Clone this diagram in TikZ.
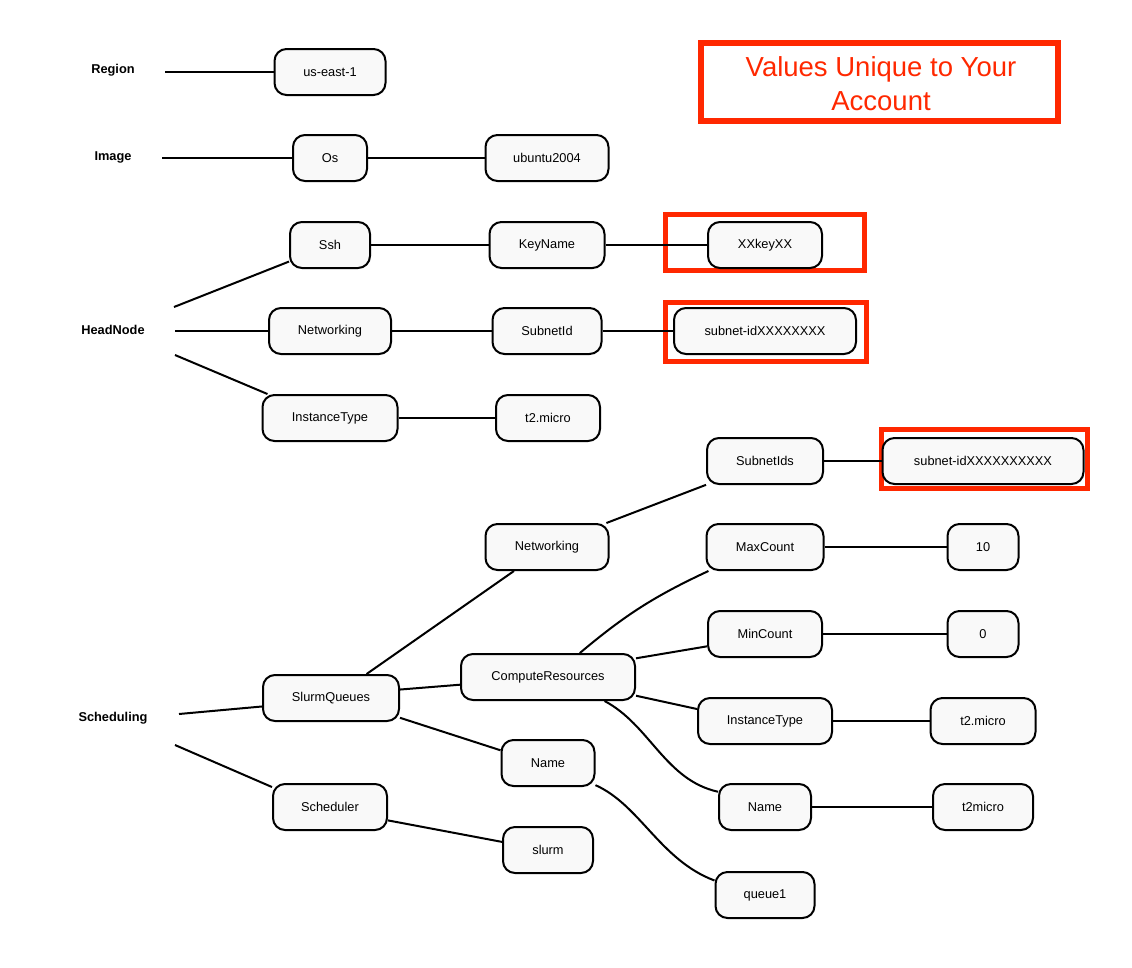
\documentclass[tikz,border=0pt]{standalone}
\usepackage{fontspec}
\setmainfont{Liberation Sans}
\definecolor{acctred}{RGB}{255,40,0}
\definecolor{boxgray}{RGB}{249,249,249}
\begin{document}
\begin{tikzpicture}[x=1pt,y=-1pt,
  box/.style={draw=black, line width=2pt, rounded corners=12pt, fill=boxgray,
    minimum height=46pt, inner sep=0pt, font=\fontsize{12.8}{15}\selectfont},
  lbl/.style={inner sep=0pt, font=\fontsize{12.8}{15}\selectfont\bfseries},
  link/.style={line width=2pt},
  mark box/.style={draw=acctred, line width=5pt}]
  \useasboundingbox (0,0) rectangle (1132,967);
  \node[lbl] (region) at (113,70) {Region};
  \node[lbl] (image) at (113,157) {Image};
  \node[lbl] (headnode) at (113,330) {HeadNode};
  \node[lbl] (scheduling) at (113,718) {Scheduling};
  \coordinate (rg) at (165,72);
  \coordinate (im) at (162,158);
  \coordinate (hn1) at (174,307);
  \coordinate (hn2) at (175,331);
  \coordinate (hn3) at (175,355);
  \coordinate (sc1) at (179,714);
  \coordinate (sc2) at (175,745);
  \draw[mark box, line width=6pt] (701,43) rectangle (1058,121);
  \node[text=acctred, align=center, inner sep=0pt, font=\fontsize{27.5}{34}\selectfont] (note) at (881,84) {Values Unique to Your\\Account};
  \draw[mark box] (665.5,214.5) rectangle (864.5,270.5);
  \draw[mark box] (665.5,302.5) rectangle (866.5,361.5);
  \draw[mark box] (881.5,429.5) rectangle (1087.5,488.5);
  \node[box, minimum width=111pt] (useast) at (330,72) {us-east-1};
  \node[box, minimum width=74pt] (os) at (330,158) {Os};
  \node[box, minimum width=123pt] (ubuntu) at (547,158) {ubuntu2004};
  \node[box, minimum width=80pt] (ssh) at (330,245) {Ssh};
  \node[box, minimum width=115pt] (keyname) at (547,245) {KeyName};
  \node[box, minimum width=114pt] (xxkey) at (765,245) {XXkeyXX};
  \node[box, minimum width=122pt] (hnet) at (330,331) {Networking};
  \node[box, minimum width=109pt] (subnetid) at (547,331) {SubnetId};
  \node[box, minimum width=182pt] (hsubnet) at (765,331) {subnet-idXXXXXXXX};
  \node[box, minimum width=135pt] (hitype) at (330,418) {InstanceType};
  \node[box, minimum width=104pt] (hmicro) at (548,418) {t2.micro};
  \node[box, minimum width=116pt] (subnetids) at (765,461) {SubnetIds};
  \node[box, minimum width=201pt] (ssubnet) at (983,461) {subnet-idXXXXXXXXXX};
  \node[box, minimum width=123pt] (snet) at (547,547) {Networking};
  \node[box, minimum width=117pt] (maxcount) at (765,547) {MaxCount};
  \node[box, minimum width=71pt] (ten) at (983,547) {10};
  \node[box, minimum width=114pt] (mincount) at (765,634) {MinCount};
  \node[box, minimum width=71pt] (zero) at (983,634) {0};
  \node[box, minimum width=174pt] (compute) at (548,677) {ComputeResources};
  \node[box, minimum width=136pt] (slurmq) at (331,698) {SlurmQueues};
  \node[box, minimum width=134pt] (citype) at (765,721) {InstanceType};
  \node[box, minimum width=105pt] (cmicro) at (983,721) {t2.micro};
  \node[box, minimum width=93pt] (qname) at (548,763) {Name};
  \node[box, minimum width=92pt] (cname) at (765,807) {Name};
  \node[box, minimum width=100pt] (cnmicro) at (983,807) {t2micro};
  \node[box, minimum width=114pt] (scheduler) at (330,807) {Scheduler};
  \node[box, minimum width=90pt] (slurm) at (548,850) {slurm};
  \node[box, minimum width=99pt] (queue) at (765,895) {queue1};
  \draw[link] (rg) -- (useast);
  \draw[link] (im) -- (os);
  \draw[link] (os) -- (ubuntu);
  \draw[link] (hn1) -- (ssh.202);
  \draw[link] (hn2) -- (hnet);
  \draw[link] (hn3) -- (hitype.159);
  \draw[link] (ssh) -- (keyname);
  \draw[link] (keyname) -- (xxkey);
  \draw[link] (hnet) -- (subnetid);
  \draw[link] (subnetid) -- (hsubnet);
  \draw[link] (hitype) -- (hmicro);
  \draw[link] (sc1) -- (slurmq.187);
  \draw[link] (sc2) -- (scheduler.161);
  \draw[link] (slurmq.34) -- (snet.216);
  \draw[link] (slurmq.7) -- (compute.185);
  \draw[link] (slurmq.-16) -- (qname.165);
  \draw[link] (scheduler.-13) -- (slurm.170);
  \draw[link] (snet.22) -- (subnetids.202);
  \draw[link] (subnetids) -- (ssubnet);
  \draw[link] (compute.37) to[out=40, in=205] (maxcount.203);
  \draw[link] (compute.12) -- (mincount.192);
  \draw[link] (compute.-12) -- (citype.170);
  \draw[link] (compute.-23) .. controls (650,725) and (665,780) .. (cname.162);
  \draw[link] (qname.-25) .. controls (640,805) and (660,860) .. (queue.164);
  \draw[link] (maxcount) -- (ten);
  \draw[link] (mincount) -- (zero);
  \draw[link] (citype) -- (cmicro);
  \draw[link] (cname) -- (cnmicro);
\end{tikzpicture}
\end{document}
